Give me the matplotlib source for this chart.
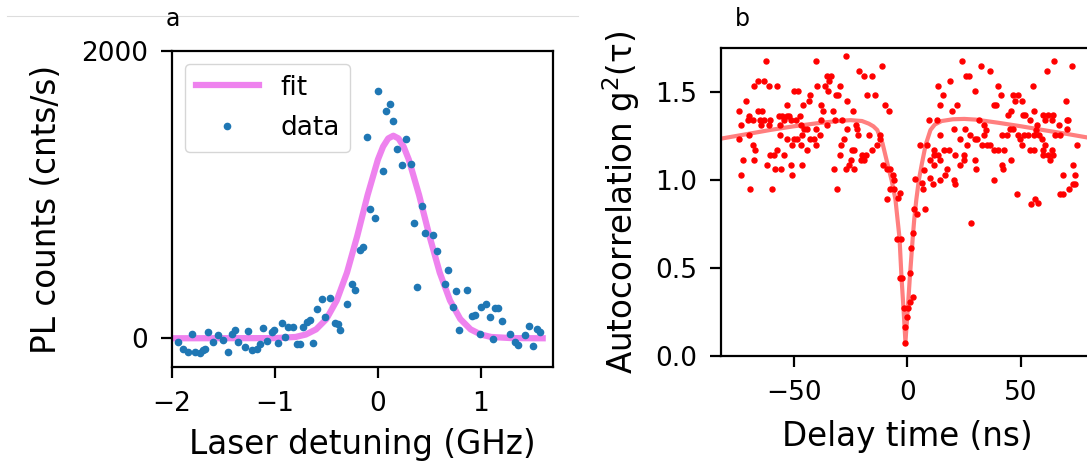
import numpy as np
import matplotlib
matplotlib.use("Agg")
import matplotlib.pyplot as plt
from matplotlib.lines import Line2D

# ---- panel a: PL excitation scan ----
det_data = [
    -1.939, -1.890, -1.841, -1.809, -1.777, -1.728, -1.696, -1.680, -1.647, -1.599,
    -1.550, -1.502, -1.453, -1.421, -1.388, -1.356, -1.291, -1.259, -1.226, -1.178,
    -1.146, -1.113, -1.081, -1.032, -1.010, -0.968, -0.935, -0.903, -0.871, -0.822,
    -0.790, -0.757, -0.725, -0.693, -0.660, -0.628, -0.595, -0.547, -0.515, -0.466,
    -0.417, -0.385, -0.369, -0.304, -0.255, -0.223, -0.175, -0.142, -0.078, -0.029,
    0.003, 0.117, 0.078, 0.149, -0.104, 0.272, 0.188, 0.045, 0.230, 0.317,
    0.424, 0.353, 0.456, 0.537, 0.570, 0.382, 0.683, 0.650, 0.757, 0.861,
    0.731, 0.790, 0.909, 0.942, 1.006, 1.049, 1.087, 1.168, 1.201, 0.990,
    1.120, 1.282, 1.330, 1.362, 1.427, 1.469, 1.508, 1.541, 1.573, 1.136,
]
counts_data = [
    -25, -72, -95, 28, -95, -102, -84, -72, 44, -25,
    21, -14, -95, 28, 56, -25, -60, 49, -84, -72,
    -37, 72, -21, 44, 56, -30, 107, 9, 79, 79,
    -37, -37, 79, 114, 125, -30, 207, 270, 149, 277,
    107, 102, 60, 242, 381, 339, 613, 636, 897, 834,
    1724, 1631, 1584, 1515, 1403, 1385, 1320, 1166, 1206, 1213,
    920, 799, 730, 718, 606, 358, 474, 381, 330, 335,
    218, 56, 153, 160, 218, 237, 149, 211, 119, 32,
    -2, 28, -25, -49, 21, 84, -56, 67, 44, 214,
]
det_fit = [-2.0, -1.0, -0.8, -0.7, -0.6, -0.5, -0.4, -0.3, -0.2, -0.1, 0.0, 0.05,
           0.1, 0.15, 0.2, 0.25, 0.3, 0.4, 0.5, 0.6, 0.7, 0.8, 0.9, 1.0, 1.1, 1.3, 1.6]
counts_fit = [0, 1, 9, 26, 62, 134, 263, 458, 714, 997, 1244, 1334,
              1391, 1410, 1391, 1334, 1244, 997, 714, 458, 263, 134, 62, 26, 9, 1, 0]

# ---- panel b: second-order autocorrelation ----
tau_data = [
    -62.3, -40.4, -26.9, -11.1, -21.4, -19.2, -15.5, -35.5, -33.8, -34.5,
    -67.4, -65.9, -63.3, -61.1, -57.5, -39.6, -36.4, -35.0, -29.7, -49.9,
    -48.1, -43.0, -31.6, -30.6, -17.7, -14.3, -71.1, -43.3, -26.5, -10.1,
    -8.2, -74.3, -65.9, -63.8, -52.8, -45.8, -38.2, -37.1, -32.6, -24.0,
    -69.9, -70.3, -68.1, -64.8, -63.0, -60.4, -56.7, -55.0, -53.1, -52.1,
    -51.3, -54.5, -47.2, -49.1, -73.0, -64.2, -60.8, -56.2, -46.9, -45.5,
    -44.0, -40.4, -37.9, -35.2, -32.0, -28.7, -22.8, -26.5, -22.1, -74.0,
    -69.6, -56.2, -53.1, -49.9, -48.4, -46.2, -42.8, -41.1, -38.5, -21.8,
    -17.0, -11.9, -27.9, -12.3, -68.1, -67.1, -57.5, -60.4, -58.9, -54.3,
    -50.6, -46.9, -44.0, -40.4, -29.4, -24.6, -23.5, -72.5, -67.7, -61.6,
    -58.3, -55.4, -51.3, -46.2, -50.6, -19.9, -18.1, -20.6, -19.2, -25.0,
    -25.7, -27.2, -23.5, -32.3, -29.8, -15.5, -13.3, -10.7, -9.2, -7.5,
    -6.3, -6.0, -7.5, -6.0, -3.4, -4.3, -9.2, -73.3, -69.2, -59.4,
    -31.2,
    24.0, 32.3, 36.4, 25.7, 27.2, 18.8, 13.4, 29.8, 39.6, 55.4,
    15.6, 14.2, 21.8, 19.6, 37.9, 39.0, 41.2, 46.6, 48.4, 47.4,
    50.3, 61.2, 64.6, 72.2, 69.6, 45.5, 44.4, 50.7, 51.7, 55.8,
    59.8, 62.0, 64.2, 63.4, 70.0, 70.7, 66.7, 70.3, 60.5, 53.9,
    56.9, 9.3, 13.0, 31.3, 33.5, 34.6, 20.3, 25.4, 27.6, 29.8,
    30.5, 33.5, 41.5, 43.7, 46.6, 45.2, 48.8, 49.6, 51.3, 53.2,
    55.7, 58.0, 56.6, 59.1, 64.9, 67.1, 14.5, 11.5, 15.9, 18.1,
    5.7, 8.6, 22.9, 26.2, 32.7, 34.9, 36.4, 37.9, 40.0, 42.5,
    50.3, 53.9, 55.8, 60.5, 59.8, 59.5, 63.4, 62.0, 64.2, 62.7,
    74.4, 11.5, 13.4, 10.1, 14.5, 21.0, 24.7, 24.7, 29.8, 45.5,
    41.5, 42.2, 23.2, 17.4, 11.5, 7.2, 16.7, 10.1, 6.4, 6.9,
    11.2, 14.5, 20.3, 21.0, 37.9, 68.6, 73.7, 72.9, 48.1, 54.4,
    56.1, 57.2, 67.1, 68.6, 71.2, 72.9, 73.7, 3.5, 2.8, 4.2,
    7.6, 27.9, 30.3,
    -4.8, -2.8, 2.5, 1.7, 1.0, -3.5, -2.3, 2.3, 0.9, -1.6,
    0.1, -0.2, -0.9, -1.3,
]
g2_data = [
    1.676, 1.676, 1.704, 1.649, 1.621, 1.591, 1.591, 1.591, 1.591, 1.564,
    1.534, 1.564, 1.564, 1.534, 1.534, 1.534, 1.534, 1.507, 1.534, 1.507,
    1.507, 1.481, 1.481, 1.481, 1.481, 1.481, 1.450, 1.450, 1.450, 1.424,
    1.394, 1.394, 1.394, 1.394, 1.424, 1.424, 1.424, 1.394, 1.394, 1.394,
    1.363, 1.341, 1.341, 1.341, 1.341, 1.341, 1.363, 1.363, 1.363, 1.363,
    1.341, 1.341, 1.363, 1.341, 1.312, 1.312, 1.312, 1.312, 1.312, 1.288,
    1.288, 1.288, 1.341, 1.312, 1.341, 1.341, 1.312, 1.288, 1.288, 1.231,
    1.255, 1.255, 1.231, 1.231, 1.231, 1.255, 1.231, 1.231, 1.255, 1.255,
    1.255, 1.255, 1.231, 1.231, 1.199, 1.170, 1.170, 1.142, 1.142, 1.142,
    1.199, 1.199, 1.170, 1.199, 1.199, 1.170, 1.170, 1.113, 1.113, 1.085,
    1.060, 1.060, 1.085, 1.085, 1.028, 1.142, 1.142, 1.113, 1.113, 1.113,
    1.085, 1.060, 1.060, 1.060, 1.142, 1.170, 1.199, 1.085, 1.060, 1.060,
    1.028, 1.000, 0.947, 0.947, 0.924, 0.896, 0.890, 1.028, 0.947, 0.947,
    0.947,
    1.676, 1.649, 1.621, 1.591, 1.591, 1.564, 1.534, 1.507, 1.534, 1.534,
    1.481, 1.424, 1.424, 1.394, 1.424, 1.424, 1.481, 1.481, 1.481, 1.450,
    1.450, 1.621, 1.676, 1.649, 1.450, 1.394, 1.369, 1.369, 1.369, 1.394,
    1.369, 1.369, 1.369, 1.341, 1.341, 1.341, 1.312, 1.288, 1.341, 1.341,
    1.312, 1.341, 1.341, 1.341, 1.312, 1.284, 1.288, 1.288, 1.255, 1.231,
    1.231, 1.255, 1.255, 1.255, 1.288, 1.288, 1.255, 1.231, 1.255, 1.255,
    1.255, 1.255, 1.284, 1.231, 1.255, 1.255, 1.255, 1.170, 1.170, 1.170,
    1.199, 1.199, 1.231, 1.199, 1.199, 1.199, 1.199, 1.170, 1.170, 1.170,
    1.199, 1.170, 1.170, 1.199, 1.170, 1.142, 1.170, 1.142, 1.142, 1.113,
    1.199, 1.142, 1.142, 1.113, 1.113, 1.142, 1.142, 1.113, 1.113, 1.113,
    1.085, 1.060, 1.085, 1.060, 1.085, 1.057, 1.028, 1.009, 0.981, 0.947,
    0.977, 1.000, 1.000, 0.977, 1.000, 1.028, 1.028, 1.085, 0.920, 0.863,
    0.890, 0.867, 0.920, 0.920, 0.947, 0.977, 0.977, 1.004, 0.833, 0.807,
    0.833, 0.754, 1.060,
    0.663, 0.663, 0.697, 0.611, 0.469, 0.441, 0.441, 0.333, 0.308, 0.274,
    0.274, 0.219, 0.163, 0.075,
]
tau_fit = [-82, -78, -70, -60, -50, -40, -30, -25, -20, -17, -15, -13.3, -11, -8.9,
           -7, -5.3, -4.4, -3.5, -2.6, -1.75, -0.9, 0.15, 1.0, 2.3, 3.0, 3.9, 5.0,
           6.4, 8.0, 10.1, 12, 15, 20, 25, 30, 40, 50, 60, 70, 78, 82]
g2_fit = [1.235, 1.244, 1.262, 1.285, 1.305, 1.322, 1.336, 1.34, 1.335, 1.32, 1.305,
          1.284, 1.21, 1.097, 1.0, 0.89, 0.78, 0.67, 0.44, 0.27, 0.08, 0.27, 0.44,
          0.67, 0.78, 0.89, 1.0, 1.097, 1.2, 1.284, 1.315, 1.335, 1.345, 1.347,
          1.343, 1.325, 1.305, 1.283, 1.262, 1.244, 1.235]

fig = plt.figure(figsize=(10.87, 4.69), dpi=100)

def style(ax):
    for s in ax.spines.values():
        s.set_linewidth(1.6)
    ax.tick_params(labelsize=19, length=8, width=1.6, pad=9)

# panel a
ax1 = fig.add_axes([0.1582, 0.2175, 0.3505, 0.6738])
ax1.plot(det_fit, counts_fit, color='violet', lw=4.5, label='fit')
ax1.plot(det_data, counts_data, 'o', color='#1f77b4', ms=4.5, label='data')
ax1.set_xlim(-2, 1.7)
ax1.set_ylim(-200, 2000)
ax1.set_xticks([-2, -1, 0, 1])
ax1.set_yticks([0, 2000])
ax1.set_xlabel('Laser detuning (GHz)', fontsize=23.5, labelpad=8)
ax1.set_ylabel('PL counts (cnts/s)', fontsize=23.5, labelpad=13)
ax1.legend(loc='upper left', fontsize=19, handlelength=2.4, labelspacing=0.55)
style(ax1)

# panel b
ax2 = fig.add_axes([0.6633, 0.2409, 0.3431, 0.6568])
ax2.plot(tau_fit, g2_fit, color='red', alpha=0.5, lw=3)
ax2.plot(tau_data, g2_data, 'o', color='red', ms=3.6)
ax2.set_xlim(-82, 82)
ax2.set_ylim(0, 1.75)
ax2.set_xticks([-50, 0, 50])
ax2.set_yticks([0.0, 0.5, 1.0, 1.5])
ax2.set_xlabel('Delay time (ns)', fontsize=23.5, labelpad=10)
ax2.set_ylabel('Autocorrelation g$^2$(τ)', fontsize=23.5, labelpad=10)
style(ax2)

fig.text(0.152, 0.945, 'a', fontsize=17)
fig.text(0.676, 0.945, 'b', fontsize=17)
fig.add_artist(Line2D([0.006, 0.532], [0.966, 0.966], color='#dddddd', lw=0.8))

fig.savefig('out.png', dpi=100)
